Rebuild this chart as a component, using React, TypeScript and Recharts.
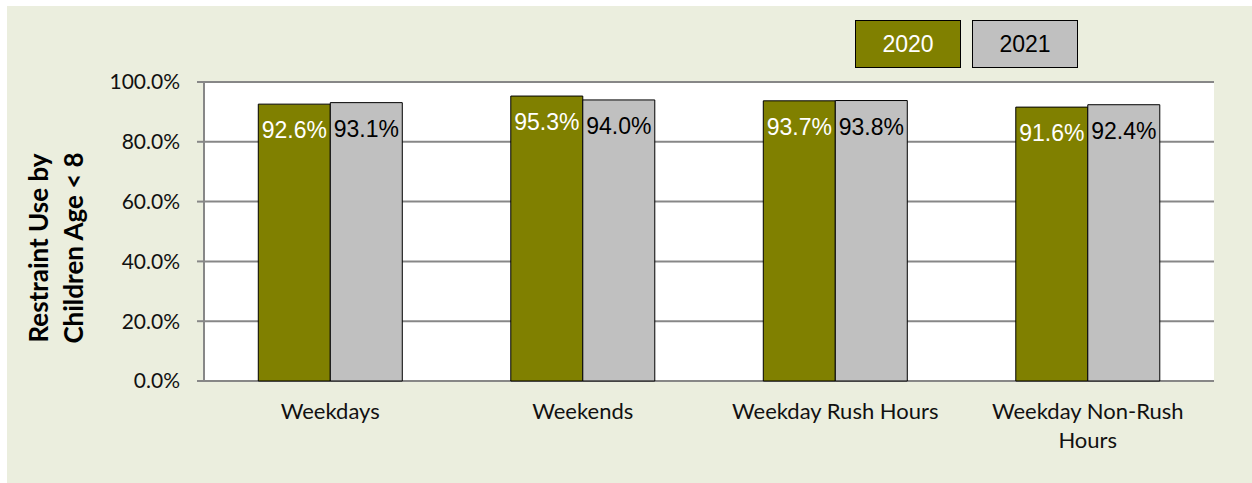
import React from 'react';
import { BarChart, Bar, XAxis, YAxis, CartesianGrid, Legend, Label } from 'recharts';

const categories = ['Weekdays', 'Weekends', 'Weekday Rush Hours', 'Weekday Non-Rush Hours'];
const values2020 = [92.6, 95.3, 93.7, 91.6];
const values2021 = [93.1, 94.0, 93.8, 92.4];
const yTicks = [0, 20, 40, 60, 80, 100];
const edgeTicks = [0, 1, 2, 3, 4];
const seriesNames = ['2020', '2021'];
const yTitleLines = ['Restraint Use by', 'Children Age < 8'];

const data = categories.map((c, i) => ({ cat: c, idx: i + 0.5, y2020: values2020[i], y2021: values2021[i] }));

const OLIVE = '#808000';
const SILVER = '#C0C0C0';
const GRID = '#878787';
const BG = '#EBEEDE';
const CAL = 'Lato, "Open Sans", sans-serif';
const ARIAL = '"Liberation Sans", Arial, sans-serif';

function wrapWords(s: string, maxChars: number): string[] {
  const words = s.split(' ');
  const lines: string[] = [];
  let cur = '';
  for (const w of words) {
    const next = cur ? cur + ' ' + w : w;
    if (next.length > maxChars && cur) {
      lines.push(cur);
      cur = w;
    } else cur = next;
  }
  if (cur) lines.push(cur);
  return lines;
}

const CatTick = (props: any) => {
  const { x, y, payload } = props;
  const lines = wrapWords(String(payload.value), 18);
  return (
    <text x={x} y={y} textAnchor="middle" fill="#111" fontFamily={CAL} fontSize={22}>
      {lines.map((l, i) => (
        <tspan key={i} x={x} dy={i === 0 ? 30 : 29}>{l}</tspan>
      ))}
    </text>
  );
};

const EmptyTick = () => <g />;

const makeLabel = (color: string) => (props: any) => {
  const { x, y, width, value } = props;
  return (
    <text x={x + width / 2} y={y + 34} textAnchor="middle" fill={color} fontFamily={ARIAL} fontSize={23}>
      {Number(value).toFixed(1)}%
    </text>
  );
};

const LegendContent = () => {
  const fills = [OLIVE, SILVER];
  const textColors = ['#fff', '#000'];
  return (
    <div style={{ display: 'flex', gap: 11 }}>
      {seriesNames.map((n, i) => (
        <div
          key={n}
          style={{
            width: 104,
            height: 46,
            background: fills[i],
            border: '1px solid #000',
            color: textColors[i],
            fontFamily: ARIAL,
            fontSize: 23,
            display: 'flex',
            alignItems: 'center',
            justifyContent: 'center',
          }}
        >
          {n}
        </div>
      ))}
    </div>
  );
};

const YTitle = () => {
  const cy = 248;
  return (
    <g>
      {yTitleLines.map((l, i) => (
        <text
          key={i}
          x={0}
          y={0}
          transform={`translate(${48 + i * 35}, ${cy}) rotate(-90)`}
          textAnchor="middle"
          fontFamily={CAL}
          fontWeight="bold"
          fontSize={26}
          fill="#000"
        >
          {l}
        </text>
      ))}
    </g>
  );
};

export default function App() {
  return (
    <div style={{ position: 'absolute', left: 0, top: 0, width: 1252, height: 483, background: '#fff' }}>
      <div style={{ position: 'absolute', left: 7, top: 6, width: 1245, height: 477, background: BG }} />
      <div style={{ position: 'absolute', left: 0, top: 0 }}>
        <BarChart
          width={1252}
          height={483}
          data={data}
          margin={{ top: 82, right: 38, bottom: 0, left: 0 }}
          barCategoryGap="21.5%"
          barGap={0}
        >
          <CartesianGrid vertical={false} fill="#fff" stroke={GRID} strokeWidth={2} />
          <XAxis
            xAxisId="edges"
            type="number"
            dataKey="idx"
            domain={[0, 4]}
            ticks={edgeTicks}
            height={0}
            axisLine={{ stroke: GRID, strokeWidth: 2 }}
            tickLine={{ stroke: GRID, strokeWidth: 2 }}
            tickSize={7}
            tick={<EmptyTick />}
          />
          <XAxis
            xAxisId="cat"
            dataKey="cat"
            height={102}
            axisLine={false}
            tickLine={false}
            interval={0}
            tick={<CatTick />}
          />
          <YAxis
            width={204}
            domain={[0, 100]}
            ticks={yTicks}
            tickFormatter={(v: number) => `${v.toFixed(1)}%`}
            axisLine={{ stroke: GRID, strokeWidth: 2 }}
            tickLine={{ stroke: GRID, strokeWidth: 2 }}
            tickSize={7}
            tickMargin={17}
            tick={{ fill: '#111', fontFamily: CAL, fontSize: 21 }}
          >
            <Label content={<YTitle />} />
          </YAxis>
          <Legend
            layout="horizontal"
            verticalAlign="middle"
            align="center"
            wrapperStyle={{ top: 20, left: 855, width: 'auto' }}
            content={<LegendContent />}
          />
          <Bar xAxisId="cat" dataKey="y2020" name="2020" fill={OLIVE} stroke="#000" strokeWidth={1} isAnimationActive={false} label={makeLabel('#fff')} />
          <Bar xAxisId="cat" dataKey="y2021" name="2021" fill={SILVER} stroke="#000" strokeWidth={1} isAnimationActive={false} label={makeLabel('#000')} />
        </BarChart>
      </div>
    </div>
  );
}
